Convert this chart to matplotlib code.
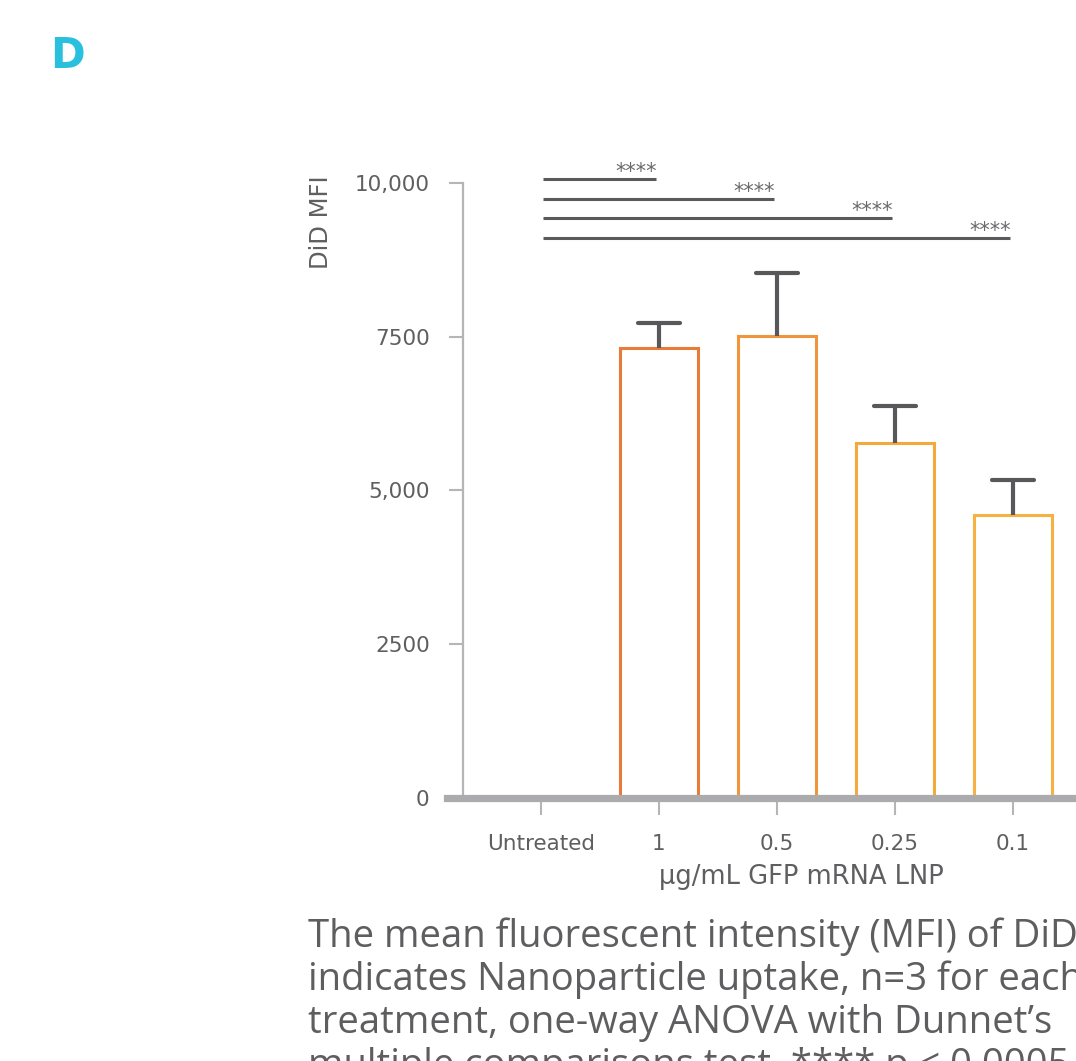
import matplotlib
matplotlib.use("Agg")
import matplotlib.pyplot as plt

plt.rcParams["font.family"] = ["DejaVu Sans"]

# Data
categories = ["Untreated", "1", "0.5", "0.25", "0.1"]
mean_mfi = [0, 7320, 7510, 5770, 4600]
sem_mfi = [0, 400, 1025, 600, 570]
bar_edge_colors = [None, "#E97B3A", "#F0953B", "#F3A93C", "#F5B141"]

y_ticks = [0, 2500, 5000, 7500, 10000]
y_tick_labels = ["0", "2500", "5,000", "7500", "10,000"]

# Dunnett comparisons vs. Untreated: (target index, bracket height)
comparisons = [(1, 10065), (2, 9740), (3, 9430), (4, 9105)]
sig_label = "****"

caption_lines = [
    "The mean fluorescent intensity (MFI) of DiD",
    "indicates Nanoparticle uptake, n=3 for each",
    "treatment, one-way ANOVA with Dunnet\u2019s",
    "multiple comparisons test, **** p < 0.0005",
]

W, H = 1076, 1061
fig = plt.figure(figsize=(W / 100, H / 100), dpi=100)

ax_left, ax_bottom, ax_top = 463, 798, 183
x_lo, x_hi = -0.661, 4.70
px_per_cat = 118
ax_w = (x_hi - x_lo) * px_per_cat
ax = fig.add_axes([ax_left / W, 1 - ax_bottom / H, ax_w / W, (ax_bottom - ax_top) / H])
ax.set_xlim(x_lo, x_hi)
ax.set_ylim(0, 10000)

text_color = "#5F5F61"
axis_gray = "#ABABAD"
err_color = "#58585A"
cap_half = 0.178

x = list(range(len(categories)))
for i, (m, e, c) in enumerate(zip(mean_mfi, sem_mfi, bar_edge_colors)):
    if m <= 0:
        continue
    ax.bar(i, m, width=0.66, facecolor="white", edgecolor=c, linewidth=2.2, zorder=2)
    # one-sided error bar: stem from bar top plus upper cap
    ax.vlines(i, m, m + e, color=err_color, lw=3.0, zorder=3)
    ax.hlines(m + e, i - cap_half, i + cap_half, color=err_color, lw=3.0,
              zorder=3, capstyle="round")

# Significance brackets
for idx, h in comparisons:
    ax.plot([0.015, idx - 0.025], [h, h], color="#5A5A5C", lw=2.2,
            solid_capstyle="butt", clip_on=False, zorder=4)
    ax.text(idx - 0.02, h + 15, sig_label, ha="right", va="baseline",
            fontsize=15, color="#6A6A6C", clip_on=False)

# Spines and axis styling
for s in ["top", "right", "bottom"]:
    ax.spines[s].set_visible(False)
ax.spines["left"].set_color("#B5B5B7")
ax.spines["left"].set_linewidth(1.6)
ax.axhline(0, xmin=-0.025, xmax=1.05, color=axis_gray, lw=5.2, clip_on=False, zorder=5)

ax.set_yticks(y_ticks)
ax.set_yticklabels(y_tick_labels)
ax.set_xticks(x)
ax.set_xticklabels(categories)
ax.tick_params(axis="y", length=10, width=1.5, color="#B5B5B7", pad=14,
               labelsize=15.5, labelcolor=text_color)
ax.tick_params(axis="x", length=12, width=1.5, color="#B5B5B7", pad=14,
               labelsize=15.5, labelcolor=text_color)

ax.text(-0.2246, 0.937, "DiD MFI", transform=ax.transAxes, rotation=90,
        ha="center", va="center", fontsize=17.5, color=text_color)
ax.text((801 - ax_left) / ax_w, -(877 - ax_bottom) / (ax_bottom - ax_top),
        "\u03bcg/mL GFP mRNA LNP", transform=ax.transAxes,
        ha="center", va="center", fontsize=18.5, color=text_color)

# Panel letter
fig.text(50 / W, 1 - 56 / H, "D", fontsize=30, fontweight="bold",
         color="#29C0DE", ha="left", va="center")

# Caption
for k, line in enumerate(caption_lines):
    fig.text(308 / W, 1 - (937 + 43 * k) / H, line, fontsize=27.5,
             family=["Open Sans", "DejaVu Sans"],
             color="#5E5E60", ha="left", va="center")

fig.savefig("out.png", dpi=100)
